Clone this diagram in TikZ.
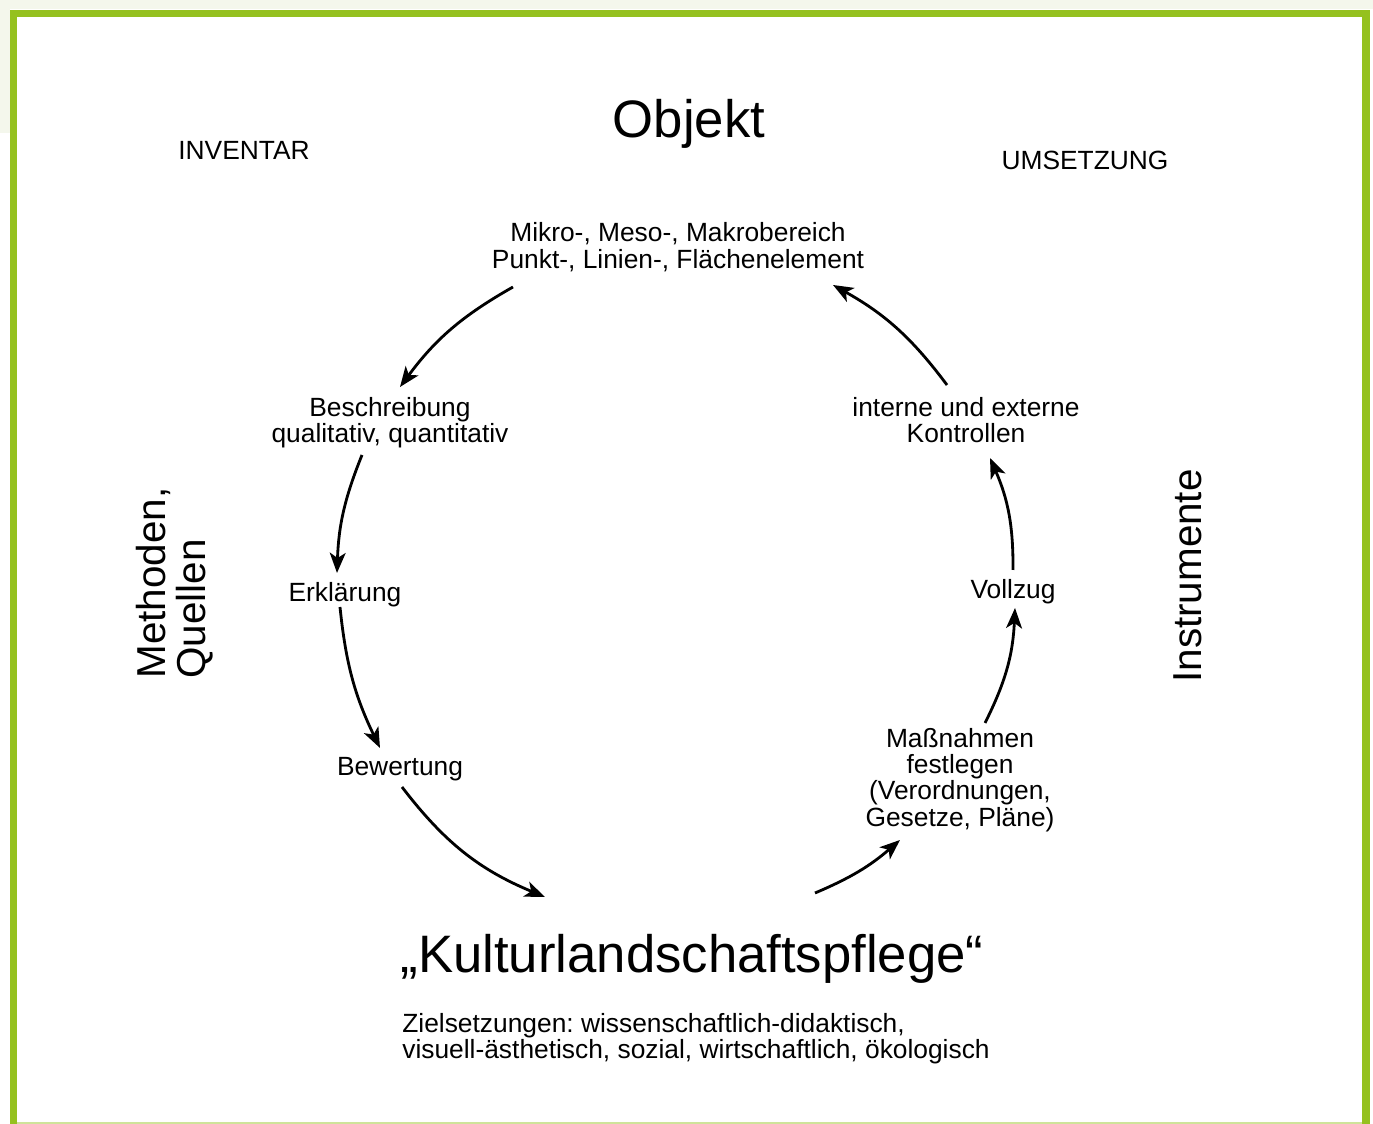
\documentclass[tikz,border=0pt]{standalone}
\usepackage{fontspec}
\setmainfont{Liberation Sans}
\frenchspacing
\usepackage{tikz}
\usetikzlibrary{arrows.meta,positioning,calc}

\definecolor{framegreen}{RGB}{149,193,31}
\definecolor{paleback}{RGB}{244,247,236}

\begin{document}
\begin{tikzpicture}[x=0.02cm, y=-0.02cm,
    lbl/.style={font=\fontsize{15}{15}\selectfont, align=center, inner sep=0pt},
    big/.style={font=\fontsize{30}{30}\selectfont, inner sep=0pt},
    side/.style={font=\fontsize{23}{22.8}\selectfont, rotate=90, align=left, inner sep=0pt},
    arrow/.style={-{Stealth[length=11.5pt, width=9pt, inset=3pt]}, line width=1.6pt}]

    \useasboundingbox (0,0) rectangle (1373,1124);

    % frame
    \fill[paleback] (0,0) rectangle (1373,9.5);
    \fill[paleback] (0,0) rectangle (9.5,133);
    \draw[framegreen!45, line width=0.6pt] (17,1123) -- (1362,1123);
    \draw[framegreen, line width=4.3pt] (13.3,1124) -- (13.3,13.3) -- (1366,13.3) -- (1366,1124);

    % headings
    \node[big, anchor=base] (objekt) at (689,138) {Objekt};
    \node[lbl, anchor=base] (inventar) at (244,160) {INVENTAR};
    \node[lbl, anchor=base] (umsetzung) at (1085,170) {UMSETZUNG};
    \node[side] (methoden) at (175,583) {Methoden,\\Quellen};
    \node[side] (instr) at (1188,576) {Instrumente};

    % cycle
    \node[lbl] (mikro) at (678,247) {Mikro-, Meso-, Makrobereich\\Punkt-, Linien-, Flächenelement};
    \node[lbl] (besch) at (390,423) {Beschreibung\\qualitativ, quantitativ};
    \node[lbl] (erkl) at (345,595) {Erklärung};
    \node[lbl] (bew) at (400,769) {Bewertung};
    \node[big] (kult) at (692,959) {„Kulturlandschaftspflege“};
    \node[lbl, align=left, anchor=north west] (ziel) at (402,1013)
        {Zielsetzungen: wissenschaftlich-didaktisch,\\visuell-ästhetisch, sozial, wirtschaftlich, ökologisch};
    \node[lbl] (mass) at (960,780) {Maßnahmen\\festlegen\\(Verordnungen,\\Gesetze, Pläne)};
    \node[lbl] (voll) at (1013,592) {Vollzug};
    \node[lbl] (kontr) at (966,420) {interne und externe\\Kontrollen};

    \draw[arrow] ($(mikro)+(-165,40)$) to[bend right=12] ($(besch)+(10,-36)$);
    \draw[arrow] ($(besch)+(-28,32)$) to[bend right=10] ($(erkl)+(-8,-22)$);
    \draw[arrow] ($(erkl)+(-5,12)$) to[bend right=10] ($(bew)+(-20,-21)$);
    \draw[arrow] ($(bew)+(2,18)$) to[bend right=15] ($(kult)+(-147,-62)$);
    \draw[arrow] ($(kult)+(123,-66)$) to[bend right=9] ($(mass)+(-60,60)$);
    \draw[arrow] ($(mass)+(25,-57)$) to[bend right=12] ($(voll)+(2,16)$);
    \draw[arrow] ($(voll)+(0,-22)$) to[bend right=12] ($(kontr)+(24,38)$);
    \draw[arrow] ($(kontr)+(-19,-35)$) to[bend right=12] ($(mikro)+(155,38)$);
\end{tikzpicture}
\end{document}
